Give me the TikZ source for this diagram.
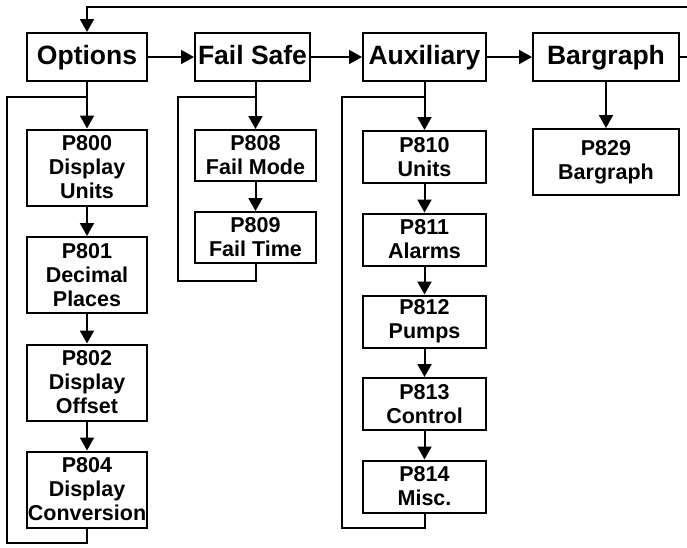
\documentclass[tikz,border=0pt]{standalone}
\usepackage{fontspec}
\setmainfont{Liberation Sans}
\usetikzlibrary{arrows.meta}

\tikzset{
  hdrbox/.style={draw, line width=2pt, minimum height=48pt, inner sep=0pt,
    text height=19pt, text depth=5pt,
    font=\bfseries\fontsize{26.5}{30}\selectfont},
  parbox/.style={draw, line width=2pt, inner sep=0pt, align=center,
    font=\bfseries\fontsize{21.5}{24}\selectfont},
  optbox/.style={parbox, minimum width=120pt, minimum height=76pt},
  failbox/.style={parbox, minimum width=121pt, minimum height=51pt},
  auxbox/.style={parbox, minimum width=123pt, minimum height=52pt},
  flow/.style={line width=2pt, -{Triangle[length=13pt,width=14pt]}},
  loopline/.style={line width=2pt}
}

\begin{document}
\begin{tikzpicture}[x=1pt, y=-1pt]
  \useasboundingbox (0,0) rectangle (687,547);

  % Menu headers
  \node[hdrbox, minimum width=120pt] (opt) at (87,57) {Options};
  \node[hdrbox, minimum width=115pt] (fail) at (252.5,57) {Fail Safe};
  \node[hdrbox, minimum width=123pt] (aux) at (424.5,57) {Auxiliary};
  \node[hdrbox, minimum width=146pt] (bar) at (606,57) {Bargraph};

  \coordinate (wrapin) at (687,7);
  \coordinate (wrapout) at (687,57);

  \draw[flow] (wrapin) -| (opt.north);
  \draw[flow] (opt) -- (fail);
  \draw[flow] (fail) -- (aux);
  \draw[flow] (aux) -- (bar);
  \draw[loopline] (bar.east) -- (wrapout);

  % Options parameters
  \node[optbox] (p800) at (87,167.5) {P800\\Display\\Units};
  \node[optbox] (p801) at (87,275) {P801\\Decimal\\Places};
  \node[optbox] (p802) at (87,382.5) {P802\\Display\\Offset};
  \node[optbox] (p804) at (87,489.5) {P804\\Display\\Conversion};
  \draw[flow] (opt) -- (p800);
  \draw[flow] (p800) -- (p801);
  \draw[flow] (p801) -- (p802);
  \draw[flow] (p802) -- (p804);
  \draw[loopline] (opt.south |- 0,97) -| (7,543) -| (p804.south);

  % Fail Safe parameters
  \node[failbox] (p808) at (255.5,155.5) {P808\\Fail Mode};
  \node[failbox] (p809) at (255.5,237.5) {P809\\Fail Time};
  \draw[flow] (p808.north |- fail.south) -- (p808);
  \draw[flow] (p808) -- (p809);
  \draw[loopline] (p808.north |- 0,97) -| (178,281) -| (p809.south);

  % Auxiliary parameters
  \node[auxbox] (p810) at (424.5,157) {P810\\Units};
  \node[auxbox] (p811) at (424.5,239.5) {P811\\Alarms};
  \node[auxbox] (p812) at (424.5,321.5) {P812\\Pumps};
  \node[auxbox] (p813) at (424.5,404) {P813\\Control};
  \node[auxbox] (p814) at (424.5,486.5) {P814\\Misc.};
  \draw[flow] (aux) -- (p810);
  \draw[flow] (p810) -- (p811);
  \draw[flow] (p811) -- (p812);
  \draw[flow] (p812) -- (p813);
  \draw[flow] (p813) -- (p814);
  \draw[loopline] (aux.south |- 0,97) -| (342,528) -| (p814.south);

  % Bargraph parameter
  \node[parbox, minimum width=146pt, minimum height=66pt] (p829) at (606,162) {P829\\Bargraph};
  \draw[flow] (bar) -- (p829);
\end{tikzpicture}
\end{document}
